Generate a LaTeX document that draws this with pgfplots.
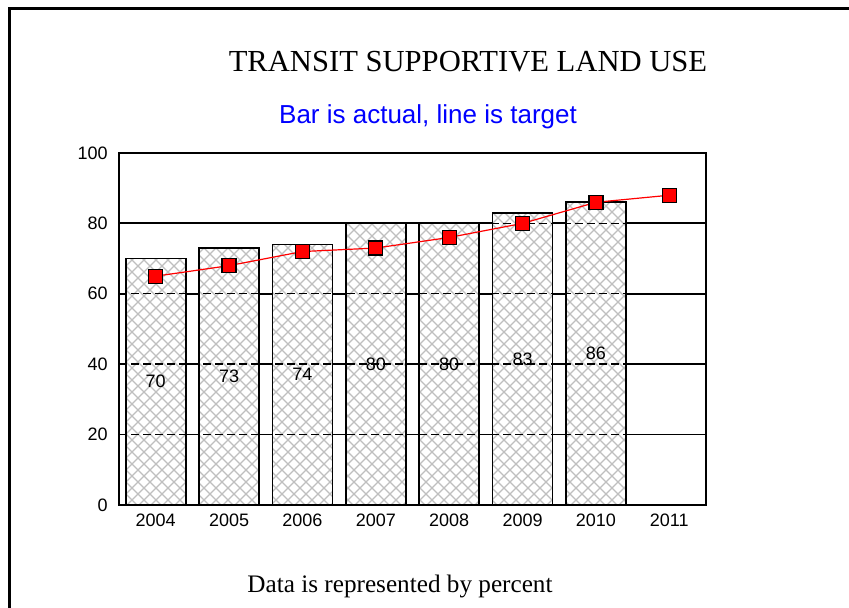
\documentclass[border=0pt]{standalone}
\usepackage{fontspec}
\setmainfont{Liberation Serif}
\newfontfamily\arial{Liberation Sans}
\usepackage{pgfplots}
\pgfplotsset{compat=1.18}
\usetikzlibrary{patterns}

\pgfdeclarepatternformonly{bighatch}{\pgfqpoint{-1pt}{-1pt}}{\pgfqpoint{7pt}{7pt}}{\pgfqpoint{6pt}{6pt}}{
  \pgfsetlinewidth{0.6pt}
  \pgfpathmoveto{\pgfqpoint{0pt}{0pt}}\pgfpathlineto{\pgfqpoint{6pt}{6pt}}
  \pgfpathmoveto{\pgfqpoint{0pt}{6pt}}\pgfpathlineto{\pgfqpoint{6pt}{0pt}}
  \pgfusepath{stroke}
}

\begin{document}
\begin{tikzpicture}[x=1pt,y=1pt]
\begin{axis}[
  at={(59.5pt,51.5pt)}, anchor=south west,
  scale only axis, width=293.5pt, height=176pt,
  xmin=-0.5, xmax=7.5, ymin=0, ymax=100,
  xtick={0,1,2,3,4,5,6,7}, xticklabels={2004,2005,2006,2007,2008,2009,2010,2011},
  ytick={0,20,40,60,80,100},
  ymajorgrids, grid style={black, line width=0.9pt},
  major tick length=0pt,
  axis line style={line width=1pt},
  tick label style={font=\arial\fontsize{9}{10}\selectfont},
  /pgf/number format/assume math mode=true,
  yticklabel style={inner sep=0pt, xshift=-5.5pt},
  xticklabel style={inner sep=0pt, yshift=-4.5pt},
  clip=false,
]
\addplot[ybar, bar width=30pt, draw=none, fill=white, forget plot]
  coordinates {(0,70) (1,73) (2,74) (3,80) (4,80) (5,83) (6,86)};
\addplot[ybar, bar width=30pt, draw=black, line width=0.9pt, pattern=bighatch, pattern color=black!25]
  coordinates {(0,70) (1,73) (2,74) (3,80) (4,80) (5,83) (6,86)};
\addplot[black, line width=0.7pt, dash pattern=on 4pt off 2pt, forget plot] coordinates {(-0.5,20) (7.5,20)};
\addplot[black, line width=0.7pt, dash pattern=on 4pt off 2pt, forget plot] coordinates {(-0.5,40) (7.5,40)};
\addplot[black, line width=0.7pt, dash pattern=on 4pt off 2pt, forget plot] coordinates {(-0.5,60) (7.5,60)};
\addplot[black, line width=0.7pt, dash pattern=on 4pt off 2pt, forget plot] coordinates {(-0.5,80) (7.5,80)};
\addplot[only marks, mark=none, nodes near coords, point meta=explicit symbolic,
  every node near coord/.append style={anchor=center, font=\arial\fontsize{9}{10}\selectfont, fill=none}]
  coordinates {(0,35) [70] (1,36.5) [73] (2,37) [74] (3,40) [80] (4,40) [80] (5,41.5) [83] (6,43) [86]};
\addplot[red, line width=0.6pt, mark=square*, mark size=3.5pt, mark options={fill=red, draw=black, line width=0.6pt, solid}]
  coordinates {(0,65) (1,68) (2,72) (3,73) (4,76) (5,80) (6,86) (7,88)};
\end{axis}
\node[anchor=base, font=\fontsize{15.3}{18}\selectfont] at (234pt,268pt) {TRANSIT SUPPORTIVE LAND USE};
\node[anchor=base, text=blue, font=\arial\fontsize{13}{15}\selectfont] at (214pt,242pt) {Bar is actual, line is target};
\node[anchor=base, font=\fontsize{12.6}{14}\selectfont] at (200pt,7.5pt) {Data is represented by percent};
\draw[line width=1.5pt] (4.5pt,-2pt) -- (4.5pt,299.5pt) -- (426pt,299.5pt);
\pgfresetboundingbox
\path[use as bounding box] (0,0) rectangle (424.5pt,304pt);
\end{tikzpicture}
\end{document}
